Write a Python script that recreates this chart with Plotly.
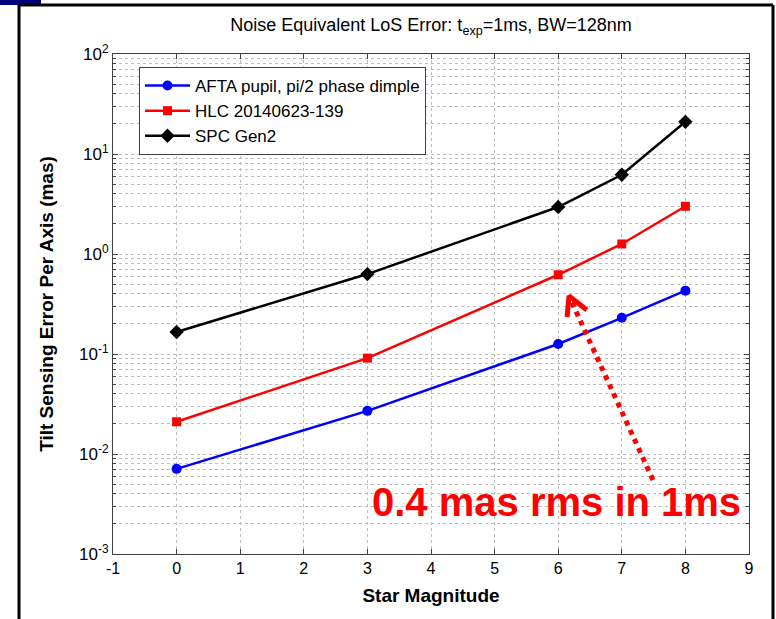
import plotly.graph_objects as go

mag = [0, 3, 6, 7, 8]
afta = [0.0071, 0.027, 0.126, 0.23, 0.43]
hlc = [0.021, 0.091, 0.62, 1.26, 3.0]
spc = [0.166, 0.63, 2.95, 6.2, 21.0]
names = ["AFTA pupil, pi/2 phase dimple", "HLC 20140623-139", "SPC Gen2"]
x_ticks = [-1, 0, 1, 2, 3, 4, 5, 6, 7, 8, 9]
x_ticklabels = ["-1", "0", "1", "2", "3", "4", "5", "6", "7", "8", "9"]
y_ticks = [1e-3, 1e-2, 1e-1, 1e0, 1e1, 1e2]
y_ticklabels = ["10<sup>-3</sup>", "10<sup>-2</sup>", "10<sup>-1</sup>",
                "10<sup>0</sup>", "10<sup>1</sup>", "10<sup>2</sup>"]

# annotation arrow (data coords)
arrow_tail = (7.49, 0.0055)
arrow_tip = (6.17, 0.38)
chev_left = (6.14, 0.234)
chev_right = (6.45, 0.275)

W, H = 776, 619
L, R, T, B = 113, 27, 54, 65
pw, ph = W - L - R, H - T - B

def px(x):
    return (x - L) / pw

def py(y):
    return (H - B - y) / ph

FONT = "Liberation Sans"
fig = go.Figure()
styles = [("#0000ff", "circle", 10), ("#ff0000", "square", 9), ("#000000", "diamond", 11)]
for vals, nm, (c, sym, sz) in zip([afta, hlc, spc], names, styles):
    fig.add_trace(go.Scatter(x=mag, y=vals, name=nm, mode="lines+markers",
                             line=dict(color=c, width=2.5),
                             marker=dict(color=c, symbol=sym, size=sz)))

fig.add_trace(go.Scatter(x=[arrow_tail[0], arrow_tip[0]], y=[arrow_tail[1], arrow_tip[1]],
                         mode="lines", line=dict(color="#ff0000", width=5, dash="dot"),
                         showlegend=False, hoverinfo="skip"))
fig.add_trace(go.Scatter(x=[chev_left[0], arrow_tip[0], chev_right[0]],
                         y=[chev_left[1], arrow_tip[1], chev_right[1]],
                         mode="lines", line=dict(color="#ff0000", width=5),
                         showlegend=False, hoverinfo="skip"))

grid = dict(showgrid=True, gridcolor="#bdbdbd", griddash="dot", gridwidth=1)
fig.update_xaxes(range=[-1, 9], tickmode="array", tickvals=x_ticks, ticktext=x_ticklabels,
                 ticks="inside", ticklen=5,
                 showline=True, linecolor="#404040", linewidth=1, mirror="ticks",
                 tickcolor="#404040", zeroline=False,
                 tickfont=dict(family=FONT, size=16, color="#000"),
                 title=dict(text="<b>Star Magnitude</b>", standoff=12,
                            font=dict(family=FONT, size=19, color="#000")),
                 **grid)
fig.update_yaxes(type="log", range=[-3, 2], tickmode="array", tickvals=y_ticks,
                 ticktext=y_ticklabels,
                 ticks="inside", ticklen=5, showline=True, linecolor="#404040",
                 linewidth=1, mirror="ticks", tickcolor="#404040",
                 tickfont=dict(family=FONT, size=17, color="#000"),
                 minor=dict(dtick="D1", showgrid=True, gridcolor="#bdbdbd", griddash="dot",
                            ticks="inside", ticklen=3, tickcolor="#404040"),
                 title=dict(text="<b>Tilt Sensing Error Per Axis (mas)</b>", standoff=20,
                            font=dict(family=FONT, size=19, color="#000")),
                 **grid)

fig.update_layout(
    width=W, height=H, margin=dict(l=L, r=R, t=T, b=B),
    plot_bgcolor="white", paper_bgcolor="white",
    title=dict(text="Noise Equivalent LoS Error: t<sub>exp</sub>=1ms, BW=128nm",
               x=0.5, xref="paper", xanchor="center", y=1 - 25 / H, yref="container",
               yanchor="middle", font=dict(family=FONT, size=18, color="#000")),
    legend=dict(x=px(139), y=py(67), xanchor="left", yanchor="top",
                bgcolor="white", bordercolor="#404040", borderwidth=1,
                font=dict(family=FONT, size=17, color="#000"),
                itemwidth=45, tracegroupgap=0),
    showlegend=True,
)

fig.add_annotation(text="<b>0.4 mas rms in 1ms</b>", xref="paper", yref="paper",
                   x=px(556), y=py(502), showarrow=False, xanchor="center", yanchor="middle",
                   font=dict(family=FONT, size=40, color="#ff0000"))

# frame decorations
fig.add_shape(type="rect", xref="paper", yref="paper", x0=px(0), x1=px(41), y0=py(0), y1=py(5),
              fillcolor="#00007a", line=dict(width=0), layer="above")
for (x0, y0, x1, y1) in [(19, 5, 19, 619), (19, 5, 773, 5), (773, 5, 773, 619)]:
    fig.add_shape(type="line", xref="paper", yref="paper", x0=px(x0), y0=py(y0),
                  x1=px(x1), y1=py(y1), line=dict(color="#000", width=3), layer="above")

fig.write_html("out.html")
